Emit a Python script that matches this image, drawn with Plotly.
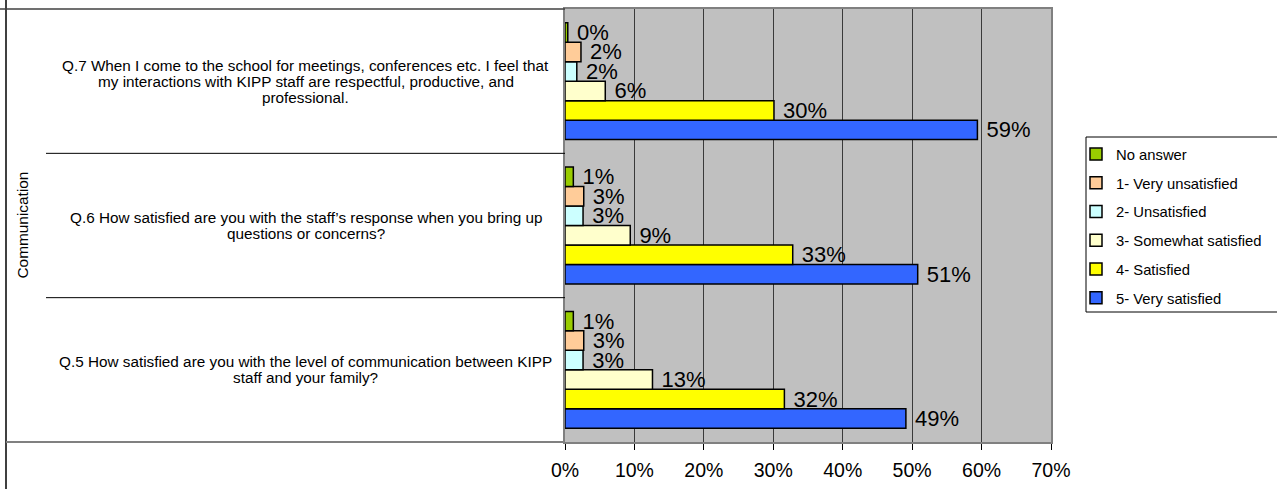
import plotly.graph_objects as go

W, H = 1277, 489

# ---------------- data ----------------
categories = ["Q.5", "Q.6", "Q.7"]  # bottom to top
category_lines = [
    ["Q.5 How satisfied are you with the level of communication between KIPP",
     "staff and your family?"],
    ["Q.6 How satisfied are you with the staff\u2019s response when you bring up",
     "questions or concerns?"],
    ["Q.7 When I come to the school for meetings, conferences etc. I feel that",
     "my interactions with KIPP staff are respectful, productive, and",
     "professional."],
]
group_label = "Communication"

series_names = ["No answer", "1- Very unsatisfied", "2- Unsatisfied",
                "3- Somewhat satisfied", "4- Satisfied", "5- Very satisfied"]
no_answer = [0.012, 0.012, 0.004]
very_unsatisfied = [0.027, 0.027, 0.023]
unsatisfied = [0.026, 0.026, 0.017]
somewhat_satisfied = [0.126, 0.094, 0.058]
satisfied = [0.316, 0.328, 0.301]
very_satisfied = [0.491, 0.508, 0.594]
series_values = [no_answer, very_unsatisfied, unsatisfied,
                 somewhat_satisfied, satisfied, very_satisfied]
series_colors = ["#99CC00", "#FFCC99", "#CCFFFF", "#FFFFCC", "#FFFF00", "#3366FF"]

x_tick_vals = [0, 0.1, 0.2, 0.3, 0.4, 0.5, 0.6, 0.7]
x_tick_text = ["0%", "10%", "20%", "30%", "40%", "50%", "60%", "70%"]

# ---------------- layout geometry (pixels) ----------------
plot_left, plot_right, plot_top, plot_bottom = 565, 1051, 9, 442
line_gap = 16

def px(x):
    return x / W

def py(y):
    return 1 - y / H

fig = go.Figure()

# add in reverse order so "5- Very satisfied" sits at the bottom of each group
n_series = len(series_names)
for rank, name, vals, col in reversed(list(zip(range(n_series), series_names,
                                                 series_values, series_colors))):
    fig.add_trace(go.Bar(
        y=categories, x=vals, name=name, orientation="h",
        marker=dict(color=col, line=dict(color="#000000", width=1.5)),
        texttemplate="\u00a0%{x:.0%}", textposition="outside",
        textfont=dict(size=22, color="#000000", family="Liberation Sans, Arial"),
        cliponaxis=False, constraintext="none",
        legendgroup=name, legendrank=rank + 1, hoverinfo="x+name",
    ))

font_main = "Liberation Sans, Arial, sans-serif"

annotations = []
for cat, lines in zip(categories, category_lines):
    n = len(lines)
    for i, ln in enumerate(lines):
        annotations.append(dict(
            x=px((46 + plot_left) / 2), xref="paper", y=cat, yref="y",
            text=ln, showarrow=False, align="center",
            font=dict(size=15.3, color="#000000", family=font_main),
            xanchor="center", yanchor="middle",
            yshift=((n - 1) / 2 - i) * line_gap,
        ))
annotations.append(dict(
    x=px(22), xref="paper", y=categories[1], yref="y",
    text=group_label, showarrow=False, textangle=-90,
    font=dict(size=15.4, color="#000000", family=font_main),
    xanchor="center", yanchor="middle",
))

shapes = [
    # left outer border of the category table
    dict(type="line", xref="paper", yref="paper", x0=px(6), x1=px(6), y0=0, y1=1,
         line=dict(color="#000000", width=1.5)),
    # top line of the table
    dict(type="line", xref="paper", yref="paper", x0=0, x1=px(plot_left),
         y0=py(plot_top), y1=py(plot_top), line=dict(color="#404040", width=1.5)),
    # bottom line of the table
    dict(type="line", xref="paper", yref="paper", x0=px(6), x1=px(plot_left),
         y0=py(plot_bottom), y1=py(plot_bottom), line=dict(color="#808080", width=2)),
    # separators between questions
    dict(type="line", xref="paper", yref="y", x0=px(46), x1=px(plot_left),
         y0=0.5, y1=0.5, line=dict(color="#000000", width=1)),
    dict(type="line", xref="paper", yref="y", x0=px(46), x1=px(plot_left),
         y0=1.5, y1=1.5, line=dict(color="#000000", width=1)),
    # legend box
    dict(type="rect", xref="paper", yref="paper", x0=px(1086), x1=px(1285),
         y0=py(312), y1=py(137), line=dict(color="#000000", width=1),
         fillcolor="#FFFFFF", layer="below"),
]

fig.update_layout(
    width=W, height=H,
    margin=dict(l=0, r=0, t=0, b=0, autoexpand=False),
    paper_bgcolor="#FFFFFF", plot_bgcolor="#C0C0C0",
    barmode="group", bargap=0.19, bargroupgap=0,
    font=dict(family=font_main, color="#000000"),
    showlegend=True,
    legend=dict(
        x=px(1076), y=py(138), xanchor="left", yanchor="top",
        traceorder="grouped", tracegroupgap=6.5,
        bgcolor="rgba(0,0,0,0)", borderwidth=0,
        font=dict(size=14.8, color="#000000", family=font_main),
    ),
    xaxis=dict(
        domain=[px(plot_left), px(plot_right)],
        range=[0, 0.7], tickvals=x_tick_vals, ticktext=x_tick_text,
        showgrid=True, gridcolor="#3a3a3a", gridwidth=1,
        zeroline=False, automargin=False,
        showline=True, linecolor="#808080", linewidth=2, mirror=True,
        ticks="outside", ticklen=6, tickcolor="#000000", tickwidth=1,
        ticklabelstandoff=4,
        tickfont=dict(size=19.5, color="#000000", family=font_main),
        fixedrange=True,
    ),
    yaxis=dict(
        domain=[py(plot_bottom), py(plot_top)],
        categoryorder="array", categoryarray=categories,
        range=[-0.5, 2.5], automargin=False,
        showticklabels=False, ticks="",
        showgrid=False, zeroline=False,
        showline=True, linecolor="#808080", linewidth=2, mirror=True,
        fixedrange=True,
    ),
    annotations=annotations,
    shapes=shapes,
)

fig.write_html(
    "out.html",
    config={"displayModeBar": False},
    post_script="document.body.style.margin='0';document.body.style.overflow='hidden';",
)
